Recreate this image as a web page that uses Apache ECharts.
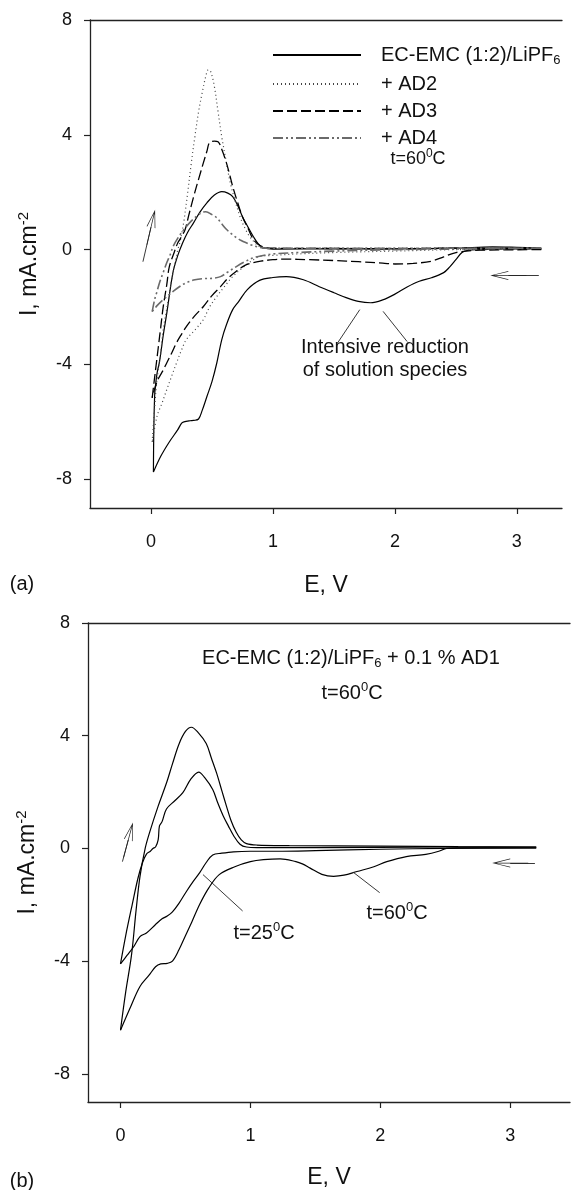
<!DOCTYPE html>
<html><head><meta charset="utf-8">
<script src="https://cdn.jsdelivr.net/npm/echarts@6/dist/echarts.min.js"></script>
<style>html,body{margin:0;padding:0;background:#fff}#c{width:571px;height:1190px}</style>
</head><body><div id="c"></div>
<script>
// ---------- tick labels ----------
const xTicks = [0, 1, 2, 3];
const yTicks = [-8, -4, 0, 4, 8];
const legendNames = ['EC-EMC (1:2)/LiPF6', '+ AD2', '+ AD3', '+ AD4'];

// ---------- panel (a): E (V), I (mA/cm2) ----------
const baseCathodic = [[3.2,0.03],[2.9,0.03],[2.7,0.0],[2.6,-0.02],[2.55,-0.1],[2.5,-0.35],[2.45,-0.6],[2.4,-0.8],[2.3,-0.98],[2.2,-1.1],[2.1,-1.3],[2.0,-1.55],[1.9,-1.75],[1.8,-1.85],[1.7,-1.8],[1.6,-1.67],[1.5,-1.5],[1.38,-1.29],[1.25,-1.05],[1.11,-0.94],[1.0,-0.97],[0.89,-1.07],[0.79,-1.39],[0.72,-1.8],[0.67,-2.09],[0.62,-2.6],[0.58,-3.14],[0.54,-3.94],[0.5,-4.6],[0.46,-5.1],[0.42,-5.6],[0.39,-5.9],[0.35,-5.95],[0.32,-5.96],[0.27,-6.0],[0.25,-6.05],[0.22,-6.27],[0.15,-6.7],[0.08,-7.2],[0.02,-7.75]];
const baseAnodic = [[0.02,-7.75],[0.03,-5.1],[0.05,-4.3],[0.07,-3.9],[0.1,-3.0],[0.13,-2.2],[0.18,-0.8],[0.22,-0.2],[0.26,0.24],[0.3,0.6],[0.35,0.94],[0.4,1.3],[0.46,1.64],[0.52,1.9],[0.58,2.02],[0.63,1.97],[0.67,1.85],[0.71,1.55],[0.75,1.15],[0.8,0.75],[0.84,0.45],[0.88,0.2],[0.92,0.07],[1.0,0.02],[1.5,0.03],[2.0,0.03],[2.5,0.05],[2.8,0.1],[3.0,0.08],[3.2,0.05]];
const ad2Cathodic = [[3.2,0.02],[2.5,0.0],[2.0,-0.05],[1.5,-0.1],[1.2,-0.15],[1.0,-0.2],[0.89,-0.24],[0.84,-0.35],[0.76,-0.6],[0.67,-0.94],[0.6,-1.3],[0.54,-1.63],[0.48,-2.0],[0.43,-2.43],[0.36,-2.8],[0.29,-3.13],[0.25,-3.5],[0.21,-3.94],[0.17,-4.4],[0.13,-4.87],[0.09,-5.35],[0.05,-5.8],[0.01,-6.7]];
const ad2Anodic = [[0.01,-6.7],[0.03,-5.5],[0.05,-4.5],[0.08,-3.6],[0.1,-2.8],[0.14,-1.8],[0.17,-1.05],[0.2,-0.4],[0.22,0.0],[0.24,0.3],[0.27,1.0],[0.3,1.95],[0.33,3.0],[0.36,3.94],[0.39,4.8],[0.42,5.47],[0.45,6.05],[0.47,6.27],[0.49,6.2],[0.52,5.68],[0.55,4.8],[0.58,3.94],[0.62,3.0],[0.65,2.33],[0.69,1.7],[0.73,1.15],[0.77,0.75],[0.81,0.45],[0.85,0.25],[0.89,0.1],[0.95,0.04],[1.5,0.05],[2.5,0.05],[3.2,0.05]];
const ad3Cathodic = [[3.2,0.0],[2.7,-0.02],[2.5,-0.1],[2.4,-0.25],[2.3,-0.4],[2.15,-0.48],[2.0,-0.5],[1.9,-0.47],[1.7,-0.42],[1.5,-0.38],[1.3,-0.35],[1.11,-0.33],[1.0,-0.35],[0.9,-0.4],[0.84,-0.45],[0.77,-0.55],[0.7,-0.75],[0.63,-1.0],[0.57,-1.29],[0.5,-1.6],[0.43,-1.98],[0.36,-2.3],[0.29,-2.68],[0.25,-2.95],[0.21,-3.24],[0.17,-3.6],[0.13,-3.94],[0.1,-4.2],[0.06,-4.5],[0.03,-4.85],[0.01,-5.16]];
const ad3Anodic = [[0.01,-5.16],[0.02,-4.8],[0.04,-4.1],[0.06,-3.4],[0.08,-2.7],[0.1,-2.0],[0.13,-1.2],[0.15,-0.6],[0.19,-0.1],[0.22,0.24],[0.25,0.45],[0.28,0.7],[0.31,1.2],[0.35,1.85],[0.39,2.45],[0.43,3.03],[0.46,3.45],[0.48,3.73],[0.52,3.78],[0.55,3.76],[0.58,3.5],[0.61,3.14],[0.64,2.7],[0.67,2.2],[0.71,1.65],[0.75,1.15],[0.8,0.7],[0.84,0.35],[0.88,0.18],[0.92,0.1],[1.0,0.05],[1.5,0.04],[2.0,0.03],[2.5,0.05],[3.2,0.03]];
const ad4Cathodic = [[3.2,0.05],[2.5,0.02],[2.0,0.0],[1.5,-0.05],[1.2,-0.1],[1.0,-0.15],[0.9,-0.22],[0.84,-0.28],[0.77,-0.42],[0.7,-0.59],[0.63,-0.78],[0.57,-0.94],[0.5,-1.0],[0.43,-1.01],[0.36,-1.05],[0.29,-1.15],[0.23,-1.3],[0.18,-1.46],[0.14,-1.6],[0.1,-1.74],[0.05,-1.95],[0.01,-2.16]];
const ad4Anodic = [[0.01,-2.16],[0.03,-1.74],[0.05,-1.45],[0.07,-1.15],[0.1,-0.8],[0.13,-0.45],[0.16,-0.15],[0.18,0.1],[0.22,0.4],[0.27,0.7],[0.32,0.95],[0.37,1.15],[0.42,1.3],[0.45,1.32],[0.5,1.22],[0.54,1.11],[0.58,0.9],[0.62,0.7],[0.66,0.55],[0.7,0.42],[0.74,0.32],[0.78,0.24],[0.83,0.15],[0.87,0.1],[0.95,0.05],[1.5,0.05],[2.5,0.05],[3.2,0.05]];

// ---------- panel (b) ----------
const t60Cathodic = [[3.2,0.02],[2.8,0.02],[2.6,0.02],[2.51,0.0],[2.45,-0.1],[2.35,-0.21],[2.2,-0.29],[2.05,-0.47],[1.95,-0.65],[1.82,-0.82],[1.72,-0.95],[1.64,-0.99],[1.55,-0.92],[1.46,-0.7],[1.4,-0.55],[1.35,-0.47],[1.23,-0.37],[1.1,-0.4],[1.0,-0.47],[0.88,-0.65],[0.76,-0.93],[0.68,-1.4],[0.61,-1.98],[0.55,-2.6],[0.5,-3.1],[0.45,-3.6],[0.4,-4.0],[0.36,-4.08],[0.31,-4.1],[0.27,-4.2],[0.22,-4.5],[0.15,-4.9],[0.08,-5.6],[0.0,-6.45]];
const t60Anodic = [[0.0,-6.45],[0.04,-5.1],[0.085,-3.78],[0.12,-2.2],[0.15,-1.0],[0.19,0.0],[0.225,0.58],[0.29,1.5],[0.354,2.32],[0.4,3.0],[0.45,3.7],[0.5,4.15],[0.546,4.3],[0.6,4.1],[0.66,3.72],[0.7,3.2],[0.74,2.67],[0.78,2.05],[0.815,1.51],[0.85,1.0],[0.89,0.58],[0.93,0.3],[0.97,0.17],[1.05,0.12],[1.3,0.1],[2.0,0.08],[2.6,0.06],[3.2,0.05]];
const t25Cathodic = [[3.2,0.02],[2.5,0.0],[2.0,-0.03],[1.5,-0.08],[1.2,-0.1],[1.0,-0.1],[0.87,-0.12],[0.78,-0.17],[0.71,-0.23],[0.66,-0.5],[0.61,-0.86],[0.56,-1.17],[0.51,-1.51],[0.45,-1.95],[0.4,-2.25],[0.36,-2.4],[0.32,-2.5],[0.27,-2.7],[0.2,-3.0],[0.15,-3.13],[0.1,-3.5],[0.05,-3.8],[0.0,-4.1]];
const t25Anodic = [[0.0,-4.1],[0.04,-3.1],[0.09,-2.0],[0.135,-1.05],[0.17,-0.5],[0.2,-0.2],[0.23,-0.1],[0.25,0.0],[0.27,0.05],[0.29,0.3],[0.3,0.8],[0.32,0.95],[0.354,1.4],[0.42,1.7],[0.48,1.98],[0.54,2.45],[0.602,2.71],[0.65,2.5],[0.71,2.09],[0.75,1.6],[0.79,1.16],[0.83,0.8],[0.87,0.46],[0.92,0.15],[0.97,0.05],[1.05,0.03],[1.5,0.03],[2.5,0.05],[3.2,0.05]];

// ---------- annotation lines (data coordinates) ----------
const aPointers = [[[1.712,-2.09],[1.53,-3.25]],[[1.903,-2.15],[2.1,-3.2]]];
const aArrows = [[[-0.066,-0.42],[0.0,0.78]],[[3.18,-0.9],[2.93,-0.9]]];
const bPointers = [[[0.635,-0.93],[0.94,-2.22]],[[1.79,-0.84],[1.995,-1.57]]];
const bArrows = [[[0.015,-0.47],[0.06,0.3]],[[3.19,-0.52],[3.0,-0.52]]];

const FONT = '"Liberation Sans", Arial, Helvetica, sans-serif';
const INK = '#111';
const ARROW = 'path://M5,0 L10,18 L9.2,18 L5.4,4 L5.4,36 L4.6,36 L4.6,4 L0.8,18 L0,18 Z';

function rich(size) {
  const small = Math.round(size * 0.66);
  return {
    t: {fontSize: size, fontFamily: FONT, color: INK, lineHeight: Math.round(size * 1.2)},
    u: {fontSize: small, fontFamily: FONT, color: INK, lineHeight: small, verticalAlign: 'top'},
    s: {fontSize: small, fontFamily: FONT, color: INK, lineHeight: small, verticalAlign: 'bottom'}
  };
}

const axisLine = {show: true, onZero: false, lineStyle: {color: '#222', width: 1.3}};
function xMain(grid, min, max, gap) {
  return {type: 'value', gridIndex: grid, min: min, max: max, position: 'bottom',
    axisLine: axisLine, splitLine: {show: false},
    axisTick: {show: true, length: 6, customValues: xTicks, lineStyle: {color: '#222', width: 1.2}},
    axisLabel: {customValues: xTicks, margin: 25, fontSize: 18, fontFamily: FONT, color: INK},
    name: 'E, V', nameLocation: 'middle', nameGap: gap,
    nameTextStyle: {fontSize: 23, fontFamily: FONT, color: INK}};
}
function xTop(grid, min, max) {
  return {type: 'value', gridIndex: grid, min: min, max: max, position: 'top',
    axisLine: axisLine, axisTick: {show: false}, axisLabel: {show: false}, splitLine: {show: false}};
}
function yMain(grid) {
  return {type: 'value', gridIndex: grid, min: -9, max: 8,
    axisLine: axisLine, splitLine: {show: false},
    axisTick: {show: true, length: 6, customValues: yTicks, lineStyle: {color: '#222', width: 1.2}},
    axisLabel: {customValues: yTicks, margin: 18, fontSize: 18, fontFamily: FONT, color: INK},
    name: '{t|I, mA.cm}{u|-2}', nameLocation: 'middle', nameGap: 46, nameRotate: 90,
    nameTextStyle: {rich: rich(23)}};
}

function branch(name, data, xi, yi, style) {
  return {type: 'line', name: name, data: data, xAxisIndex: xi, yAxisIndex: yi,
    symbol: 'none', showSymbol: false, smooth: 0.35, silent: true,
    lineStyle: style, itemStyle: {color: style.color}};
}
function annot(pointers, arrows) {
  const d = [];
  pointers.forEach(p => d.push([{coord: p[0], symbol: 'none', lineStyle: {color: '#222', width: 0.9, type: 'solid'}}, {coord: p[1], symbol: 'none'}]));
  arrows.forEach(p => d.push([{coord: p[0], symbol: 'none', lineStyle: {color: '#222', width: 0.9, type: 'solid'}}, {coord: p[1], symbol: ARROW, symbolSize: [9, 36]}]));
  return {silent: true, animation: false, label: {show: false}, emphasis: {disabled: true}, data: d};
}

const sSolid = {color: '#000', width: 1.2, type: 'solid'};
const sDot = {color: '#444', width: 1.2, type: [1, 3]};
const sDash = {color: '#000', width: 1.3, type: [10, 4]};
const sDashDot = {color: '#6a6a6a', width: 1.6, type: [10, 3, 2, 3, 2, 3]};

const series = [
  branch(legendNames[0], baseCathodic, 0, 0, sSolid),
  branch(legendNames[0], baseAnodic, 0, 0, sSolid),
  branch(legendNames[1], ad2Cathodic, 0, 0, sDot),
  branch(legendNames[1], ad2Anodic, 0, 0, sDot),
  branch(legendNames[2], ad3Cathodic, 0, 0, sDash),
  branch(legendNames[2], ad3Anodic, 0, 0, sDash),
  branch(legendNames[3], ad4Cathodic, 0, 0, sDashDot),
  branch(legendNames[3], ad4Anodic, 0, 0, sDashDot),
  branch('t=60 cathodic', t60Cathodic, 2, 1, sSolid),
  branch('t=60 anodic', t60Anodic, 2, 1, sSolid),
  branch('t=25 cathodic', t25Cathodic, 2, 1, sSolid),
  branch('t=25 anodic', t25Anodic, 2, 1, sSolid)
];
series[0].markLine = annot(aPointers, aArrows);
series[8].markLine = annot(bPointers, bArrows);

function txt(x, y, text, size) {
  return {type: 'text', x: x, y: y, silent: true,
    style: {text: text, rich: rich(size), align: 'center', verticalAlign: 'middle', fill: INK}};
}

const option = {
  animation: false,
  backgroundColor: '#fff',
  grid: [
    {left: 90, top: 20, width: 472, height: 488},
    {left: 88, top: 623, width: 482, height: 487}
  ],
  xAxis: [xMain(0, -0.5, 3.37, 66), xTop(0, -0.5, 3.37), xMain(1, -0.25, 3.46, 64), xTop(1, -0.25, 3.46)],
  yAxis: [yMain(0), yMain(1)],
  legend: {
    data: legendNames, orient: 'vertical', left: 272, top: 45, padding: 0,
    itemWidth: 88, itemHeight: 14, itemGap: 7, selectedMode: false,
    itemStyle: {opacity: 0},
    formatter: function (n) { return n === legendNames[0] ? '{t|EC-EMC (1:2)/LiPF}{s|6}' : '{t|' + n + '}'; },
    textStyle: {padding: [0, 0, 0, 15], rich: rich(20)}
  },
  graphic: [
    txt(418, 159, '{t|t=60}{u|0}{t|C}', 18),
    txt(385, 347, '{t|Intensive reduction}', 20),
    txt(385, 370, '{t|of solution species}', 20),
    txt(22, 584, '{t|(a)}', 20),
    txt(351, 658, '{t|EC-EMC (1:2)/LiPF}{s|6}{t| + 0.1 % AD1}', 20),
    txt(352, 693, '{t|t=60}{u|0}{t|C}', 20),
    txt(264, 933, '{t|t=25}{u|0}{t|C}', 20),
    txt(397, 913, '{t|t=60}{u|0}{t|C}', 20),
    txt(22, 1181, '{t|(b)}', 20)
  ],
  series: series
};
echarts.init(document.getElementById('c'), null, {renderer: 'canvas'}).setOption(option);
</script>
</body></html>
